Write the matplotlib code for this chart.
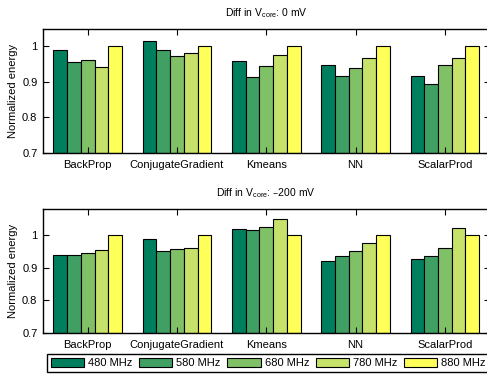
"""Normalized energy per benchmark for two core voltage offsets"""

import matplotlib
matplotlib.use("Agg")
import matplotlib.pyplot as plt
import numpy as np

plt.rcParams["font.family"] = ["Liberation Sans", "DejaVu Sans"]
plt.rcParams["mathtext.default"] = "regular"

benchmarks = ["BackProp", "ConjugateGradient", "Kmeans", "NN", "ScalarProd"]
freqs = ["480 MHz", "580 MHz", "680 MHz", "780 MHz", "880 MHz"]
colors = ["#007f5f", "#40a064", "#80c066", "#c6e26a", "#ffff5a"]

# Normalized energy at 0 mV offset, one list per frequency
energy_0mv = {
    "480 MHz": [0.991, 1.015, 0.960, 0.949, 0.916],
    "580 MHz": [0.956, 0.989, 0.915, 0.916, 0.894],
    "680 MHz": [0.961, 0.973, 0.946, 0.939, 0.949],
    "780 MHz": [0.941, 0.981, 0.975, 0.967, 0.968],
    "880 MHz": [1.000, 1.000, 1.000, 1.000, 1.000],
}

# Normalized energy at -200 mV offset
energy_200mv = {
    "480 MHz": [0.939, 0.990, 1.021, 0.920, 0.927],
    "580 MHz": [0.939, 0.951, 1.017, 0.938, 0.937],
    "680 MHz": [0.945, 0.957, 1.026, 0.952, 0.960],
    "780 MHz": [0.954, 0.960, 1.050, 0.977, 1.024],
    "880 MHz": [1.000, 1.000, 1.000, 1.000, 1.000],
}

panels = [
    ("Diff in V$_{core}$: 0 mV", energy_0mv, 1.049),
    ("Diff in V$_{core}$: \u2013200 mV", energy_200mv, 1.081),
]

fig = plt.figure(figsize=(4.87, 3.74), dpi=100)
left = 43 / 487
width = 446.5 / 487
axes_pos = [
    [left, 1 - 153 / 374, width, 124 / 374],
    [left, 1 - 333 / 374, width, 124 / 374],
]

x = np.arange(len(benchmarks))
bar_w = 1 / 6.5

for (title, data, ymax), pos in zip(panels, axes_pos):
    ax = fig.add_axes(pos)
    for i, (f, c) in enumerate(zip(freqs, colors)):
        offs = (i - 2) * bar_w
        ax.bar(x + offs, np.array(data[f]) - 0.7, bottom=0.7, width=bar_w,
               color=c, edgecolor="black", linewidth=0.8, label=f)

    ax.set_xlim(-0.5, 4.5)
    ax.set_ylim(0.7, ymax)
    ax.set_xticks(x)
    ax.set_xticklabels(benchmarks, fontsize=8)
    ax.set_yticks([0.7, 0.8, 0.9, 1.0])
    ax.set_yticklabels(["0.7", "0.8", "0.9", "1"], fontsize=8)
    ax.tick_params(direction="in", top=True, right=True, length=4, width=0.8, pad=4)
    ax.tick_params(axis="x", pad=5)
    for s in ax.spines.values():
        s.set_linewidth(1.0)
    ax.set_ylabel("Normalized energy", fontsize=8, labelpad=3)
    ax.set_title(title, fontsize=7.5, pad=9)

handles, labels = ax.get_legend_handles_labels()
leg = fig.legend(handles, labels, loc="lower left", ncol=5,
                 bbox_to_anchor=(47 / 487, 2 / 374),
                 fontsize=8, handlelength=3.0, handleheight=0.9, handletextpad=0.35,
                 columnspacing=0.6, borderaxespad=0, borderpad=0.35,
                 fancybox=False, edgecolor="black", framealpha=1)
leg.get_frame().set_linewidth(1.0)

fig.savefig("out.png", dpi=100)
